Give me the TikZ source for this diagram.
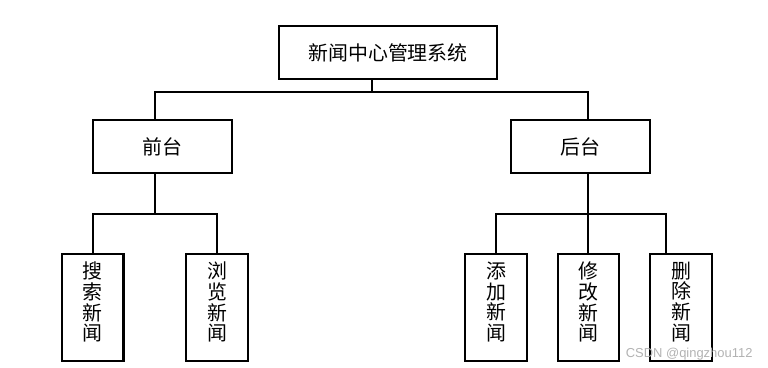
\documentclass[tikz,border=0pt]{standalone}
\usepackage{fontspec}
\newfontfamily\cjk{Noto Sans CJK SC}
\setmainfont{Liberation Sans}
\begin{document}
\begin{tikzpicture}[x=1bp,y=-1bp,
  box/.style={draw, line width=2.4bp, inner sep=0pt, font=\cjk\fontsize{20}{21}\selectfont},
  leaf/.style={box, minimum width=61.5bp, minimum height=107bp, align=center, text depth=12bp},
  wire/.style={line width=2.4bp}]
\useasboundingbox (0,0) rectangle (768,367);
% boxes
\node[box, minimum width=218bp, minimum height=53bp] (sys) at (388,52.5) {新闻中心管理系统};
\node[box, minimum width=139bp, minimum height=53bp] (front) at (162.5,146.5) {前台};
\node[box, minimum width=139bp, minimum height=53bp] (back) at (580.5,146.5) {后台};
\node[leaf] (search) at (92.7,307.2) {搜\\索\\新\\闻};
\node[leaf] (browse) at (217,307.2) {浏\\览\\新\\闻};
\node[leaf] (add) at (496,307.2) {添\\加\\新\\闻};
\node[leaf] (edit) at (588.5,307.2) {修\\改\\新\\闻};
\node[leaf] (del) at (681,307.2) {删\\除\\新\\闻};
% bus points
\coordinate (busA) at (372,92);
\coordinate (busB) at (155,214);
\coordinate (busC) at (588,214);
\coordinate (delTop) at (666,253.7);
% connectors
\draw[wire] (busA |- sys.south) -- (busA);
\draw[wire] (busB |- front.north) |- (busA) -| (busC |- back.north);
\draw[wire] (busB |- front.south) -- (busB);
\draw[wire] (search.north) |- (busB) -| (browse.north);
\draw[wire] (busC |- back.south) -- (busC);
\draw[wire] (add.north) |- (busC) -| (delTop);
\draw[wire] (busC) -- (busC |- edit.north);
\node[text=black!30, font=\fontsize{13}{14}\selectfont, anchor=east] (mark) at (756,354) {CSDN @qingzhou112};
\end{tikzpicture}
\end{document}
